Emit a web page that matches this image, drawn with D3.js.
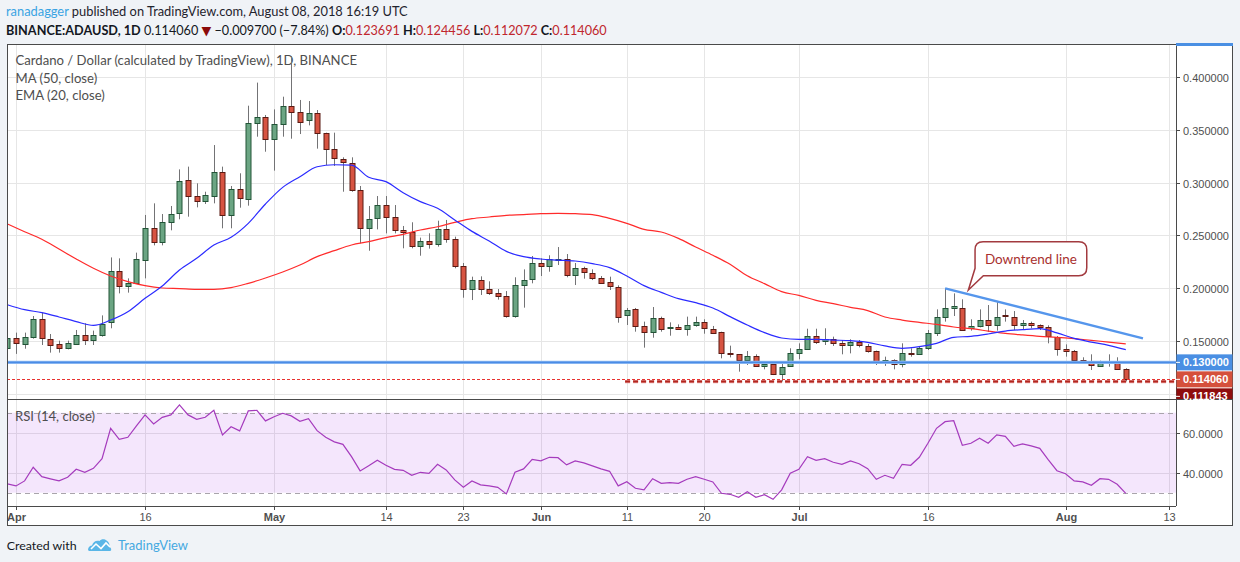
<!DOCTYPE html>
<html><head><meta charset="utf-8">
<script src="https://cdn.jsdelivr.net/npm/d3@7"></script>
<style>
html,body{margin:0;padding:0;background:#f0f3f7;}
svg{display:block;}
</style></head><body>
<svg id="c" width="1240" height="562"></svg>
<script>
// ---------------- DATA ----------------
const startDate = "2018-03-31"; // first daily candle, one per day
const opens = [.1432,.1527,.1477,.1533,.1707,.1524,.1470,.1432,.1480,.1562,
.1515,.1562,.1678,.2160,.2019,.2047,.2264,.2567,.2431,.2620,
.2705,.3020,.2872,.2822,.2872,.3096,.2690,.2935,.2841,.3559,
.3616,.3408,.3550,.3723,.3670,.3584,.3654,.3465,.3313,.3222,
.3181,.2926,.2567,.2661,.2784,.2674,.2548,.2529,.2397,.2444,
.2416,.2557,.2463,.2208,.1990,.2078,.1990,.1952,.1924,.1735,
.2028,.2085,.2239,.2208,.2274,.2274,.2122,.2189,.2148,.2100,
.2056,.2015,.1741,.1801,.1644,.1584,.1719,.1622,.1634,.1612,
.1650,.1678,.1618,.1584,.1388,.1376,.1319,.1357,.1266,.1284,
.1190,.1266,.1385,.1426,.1552,.1502,.1518,.1480,.1461,.1492,
.1455,.1404,.1291,.1319,.1278,.1385,.1376,.1433,.1574,.1726,
.1811,.1817,.1618,.1637,.1697,.1653,.1745,.1732,.1650,.1669,
.1650,.1631,.1543,.1426,.1404,.1322,.1303,.1272,.1307,.1300,
.123691];
const highs = [.1628,.1581,.1581,.1738,.1770,.1568,.1505,.1505,.1606,.1669,
.1600,.1744,.2292,.2283,.2094,.2337,.2693,.2803,.2702,.2778,
.3124,.3150,.2992,.2913,.3354,.3150,.2967,.3087,.3726,.3944,
.3638,.3691,.3811,.4195,.3780,.3770,.3685,.3471,.3471,.3238,
.3238,.2967,.2778,.2872,.2872,.2787,.2589,.2624,.2479,.2520,
.2639,.2646,.2488,.2239,.2110,.2113,.2066,.1993,.1974,.2104,
.2179,.2305,.2283,.2312,.2390,.2324,.2239,.2204,.2179,.2116,
.2110,.2028,.1814,.1814,.1685,.1823,.1732,.1678,.1659,.1732,
.1732,.1707,.1644,.1590,.1458,.1376,.1407,.1376,.1307,.1297,
.1307,.1433,.1480,.1618,.1618,.1622,.1543,.1511,.1518,.1511,
.1474,.1411,.1354,.1329,.1480,.1433,.1455,.1606,.1801,.2000,
.1952,.1896,.1707,.1801,.1842,.1874,.1801,.1785,.1700,.1685,
.1659,.1650,.1549,.1470,.1417,.1348,.1376,.1316,.1376,.1348,
.124456];
const lows = [.1360,.1380,.1429,.1524,.1464,.1392,.1392,.1423,.1464,.1464,
.1464,.1543,.1622,.1952,.1959,.2041,.2094,.2406,.2406,.2548,
.2652,.2677,.2765,.2797,.2803,.2567,.2567,.2762,.2781,.3433,
.3291,.3112,.3433,.3414,.3458,.3540,.3320,.3165,.3156,.2913,
.2913,.2425,.2355,.2557,.2519,.2519,.2378,.2378,.2308,.2375,
.2394,.2431,.2189,.1911,.1889,.1937,.1937,.1893,.1722,.1722,
.1817,.2047,.2116,.2157,.2220,.2104,.2031,.2091,.2078,.2047,
.1984,.1675,.1653,.1590,.1439,.1533,.1590,.1552,.1606,.1552,
.1637,.1571,.1568,.1338,.1347,.1212,.1275,.1259,.1234,.1180,
.1120,.1259,.1329,.1417,.1474,.1464,.1455,.1376,.1385,.1442,
.1392,.1275,.1266,.1234,.1253,.1354,.1370,.1417,.1549,.1685,
.1738,.1600,.1600,.1631,.1587,.1600,.1685,.1606,.1612,.1622,
.1606,.1480,.1363,.1354,.1300,.1285,.1228,.1259,.1259,.1228,
.112072];
const closes = [.1527,.1477,.1540,.1707,.1527,.1470,.1432,.1480,.1562,.1515,
.1562,.1666,.2160,.2019,.2047,.2274,.2567,.2431,.2623,.2699,
.3011,.2866,.2822,.2879,.3096,.2690,.2935,.2847,.3559,.3616,
.3408,.3553,.3723,.3670,.3578,.3654,.3465,.3313,.3228,.3190,
.2926,.2567,.2652,.2784,.2674,.2551,.2529,.2400,.2444,.2416,
.2557,.2463,.2204,.1990,.2078,.1990,.1952,.1924,.1735,.2028,
.2078,.2239,.2208,.2274,.2278,.2122,.2189,.2148,.2100,.2056,
.2015,.1735,.1792,.1644,.1584,.1719,.1618,.1634,.1612,.1650,
.1678,.1618,.1584,.1385,.1376,.1319,.1357,.1266,.1284,.1190,
.1259,.1385,.1426,.1552,.1496,.1518,.1480,.1461,.1492,.1461,
.1404,.1291,.1319,.1278,.1385,.1373,.1433,.1574,.1726,.1811,
.1830,.1612,.1641,.1697,.1653,.1732,.1732,.1653,.1669,.1650,
.1628,.1543,.1426,.1404,.1316,.1297,.1272,.1307,.1297,.1238,
.11406];

// MA(50) and EMA(20) at every second day
const maDays = [0,2,4,6,8,10,12,14,16,18,20,22,24,26,28,30,32,34,36,38,40,42,44,46,48,50,52,54,56,58,60,62,64,66,68,70,72,74,76,78,80,82,84,86,88,90,92,94,96,98,100,102,104,106,108,110,112,114,116,118,120,122,124,126,128,130];
const ma50 = [.2608,.2535,.2463,.2371,.2277,.2189,.2116,.2063,.2025,.2003,.1997,.1990,.1990,.2006,.2047,.2097,.2154,.2220,.2299,.2356,.2409,.2441,.2479,.2510,.2551,.2582,.2623,.2658,.2674,.2690,.2696,.2705,.2709,.2705,.2696,.2661,.2614,.2557,.2532,.2472,.2390,.2312,.2227,.2119,.2044,.1968,.1933,.1886,.1855,.1820,.1789,.1729,.1700,.1678,.1659,.1634,.1618,.1596,.1574,.1559,.1546,.1537,.1524,.1508,.1492,.1474];
const ema20 = [.1845,.1798,.1770,.1729,.1685,.1650,.1700,.1779,.1905,.2022,.2173,.2283,.2409,.2482,.2614,.2797,.2954,.3055,.3149,.3168,.3165,.3049,.3008,.2904,.2819,.2756,.2646,.2538,.2447,.2349,.2299,.2277,.2267,.2258,.2233,.2195,.2116,.2025,.1962,.1902,.1864,.1814,.1732,.1653,.1581,.1530,.1518,.1518,.1511,.1505,.1489,.1455,.1433,.1448,.1480,.1537,.1546,.1568,.1596,.1609,.1618,.1578,.1527,.1492,.1461,.1420];

const rsi14 = [34.4,33.4,35.9,42.7,38.0,36.9,35.9,37.7,41.7,40.2,
42.2,47.0,62.2,56.7,57.7,63.4,68.9,64.4,67.7,68.9,
73.9,68.9,66.7,67.7,71.2,58.9,63.0,60.9,70.9,71.2,
65.9,68.0,69.7,68.4,65.7,67.0,61.0,57.7,55.4,54.2,
48.0,40.9,43.5,46.2,43.7,41.7,41.2,38.7,40.2,39.7,
44.2,41.4,36.4,32.7,35.9,33.9,33.4,32.7,29.4,40.2,
41.9,46.7,45.9,47.7,47.5,43.9,45.9,44.9,43.4,41.9,
40.7,33.4,35.5,32.2,31.4,37.0,34.7,35.0,34.7,36.7,
38.0,36.7,35.4,29.7,29.2,27.7,30.5,27.7,29.0,26.7,
31.4,39.7,41.7,48.0,46.2,47.0,45.2,44.2,45.9,44.5,
42.0,36.7,38.7,37.2,44.2,43.7,47.7,54.7,62.2,65.5,
66.0,53.7,54.7,57.2,54.7,58.9,58.2,53.2,54.4,53.4,
52.2,46.4,41.0,39.5,35.9,35.4,33.7,37.0,36.7,34.2,
29.7];

const priceTicks = [0.10,0.15,0.20,0.25,0.30,0.35,0.40];
const rsiTicks = [40,60];
const rsiBands = [30,70];
const dateTicks = ["2018-04-01","2018-04-16","2018-05-01","2018-05-14","2018-05-23","2018-06-01","2018-06-11","2018-06-20","2018-07-01","2018-07-16","2018-08-01","2018-08-13"];
const dateTickLabels = ["Apr","16","May","14","23","Jun","11","20","Jul","16","Aug","13"];
const monthTick = [true,false,true,false,false,true,false,false,true,false,true,false];

const supportLevel = 0.13;
const lastClose = 0.11406;
const lowLevel = 0.111843;
const lowLevelStartDay = 71.8;
const trendDays = [109, 132];
const trendPrices = [0.2000, 0.1527];
const calloutDay = 111.7, calloutPrice = 0.1984;

// ---------------- SETUP ----------------
const svg = d3.select("#c");
const L = 7, R = 1176, AXR = 1232.5, T = 44, MB = 399, RB = 506, BB = 525;
const t0 = Date.parse(startDate + "T00:00:00Z");
const dayDate = d => new Date(t0 + d * 86400000);
const x = d3.scaleUtc().domain([dayDate(0), new Date(Date.UTC(2018,7,13))]).range([7.4, 1168.8]);
const y = d3.scaleLinear().domain([0.10, 0.40]).range([394.1, 76.7]);
const yr = d3.scaleLinear().domain([40, 60]).range([472.7, 432.7]);
const FONT = "'Liberation Sans', Arial, sans-serif";
const UIFONT = "Lato, 'Noto Sans', sans-serif";

function fit(sel, w){
  const l = sel.node().getComputedTextLength();
  const fs = parseFloat(sel.attr("font-size"));
  if (l > 0) sel.attr("font-size", (fs * w / l).toFixed(2));
}

// chart background
svg.append("rect").attr("x", L).attr("y", T).attr("width", AXR - L).attr("height", BB - T).attr("fill", "#fff");

// clip paths
svg.append("clipPath").attr("id","mainClip").append("rect").attr("x", L).attr("y", T).attr("width", R - L).attr("height", MB - T);
svg.append("clipPath").attr("id","rsiClip").append("rect").attr("x", L).attr("y", MB).attr("width", R - L).attr("height", RB - MB);

// gridlines
const grid = svg.append("g").attr("stroke", "#e6e6e6").attr("stroke-width", 1).attr("shape-rendering","crispEdges");
dateTicks.forEach(d => {
  const xx = Math.round(x(new Date(d + "T00:00:00Z"))) + 0.5;
  grid.append("line").attr("x1", xx).attr("x2", xx).attr("y1", T).attr("y2", RB);
});
priceTicks.forEach(p => {
  const yy = Math.round(y(p)) + 0.5;
  grid.append("line").attr("x1", L).attr("x2", R).attr("y1", yy).attr("y2", yy);
});
rsiTicks.forEach(v => {
  const yy = Math.round(yr(v)) + 0.5;
  grid.append("line").attr("x1", L).attr("x2", R).attr("y1", yy).attr("y2", yy);
});

// RSI band
svg.append("rect").attr("x", L).attr("width", R - L)
  .attr("y", yr(rsiBands[1])).attr("height", yr(rsiBands[0]) - yr(rsiBands[1]))
  .attr("fill", "rgba(145,5,225,0.1)");
rsiBands.forEach(v => {
  const yy = Math.round(yr(v)) + 0.5;
  svg.append("line").attr("x1", L).attr("x2", R).attr("y1", yy).attr("y2", yy)
    .attr("stroke", "#a9a4ab").attr("stroke-dasharray", "5,4").attr("stroke-width", 1);
});

// legends
const leg = svg.append("g").attr("fill", "#4e4e4e").attr("font-family", UIFONT);
const l1 = leg.append("text").attr("x", 15.5).attr("y", 65).attr("font-size", 13).text("Cardano / Dollar (calculated by TradingView), 1D, BINANCE");
fit(l1, 342);
const lfs = l1.attr("font-size");
leg.append("text").attr("x", 15.5).attr("y", 82.5).attr("font-size", lfs).text("MA (50, close)");
leg.append("text").attr("x", 15.5).attr("y", 99.5).attr("font-size", lfs).text("EMA (20, close)");
leg.append("text").attr("x", 15).attr("y", 421).attr("font-size", lfs).text("RSI (14, close)");

// candles
const main = svg.append("g").attr("clip-path", "url(#mainClip)");
const idx = d3.range(opens.length);
const cg = main.append("g");
idx.forEach(i => {
  const px = Math.round(x(dayDate(i)));
  const up = closes[i] >= opens[i];
  cg.append("line").attr("x1", px + 0.5).attr("x2", px + 0.5)
    .attr("y1", y(highs[i])).attr("y2", y(lows[i]))
    .attr("stroke", "#737375").attr("stroke-width", 1);
  const top = y(Math.max(opens[i], closes[i])), bot = y(Math.min(opens[i], closes[i]));
  cg.append("rect").attr("x", px - 2).attr("width", 5)
    .attr("y", Math.round(top) + 0.5).attr("height", Math.max(1, Math.round(bot - top)))
    .attr("fill", up ? "#6ba583" : "#d75442")
    .attr("stroke", up ? "#225437" : "#5b1a13").attr("stroke-width", 1);
});

// MA / EMA
const lineGen = (vals) => d3.line().x((d, k) => x(dayDate(maDays[k]))).y(d => y(d)).curve(d3.curveMonotoneX)(vals);
main.append("path").attr("d", lineGen(ma50)).attr("fill", "none").attr("stroke", "#ff2b2b").attr("stroke-width", 1.2);
main.append("path").attr("d", lineGen(ema20)).attr("fill", "none").attr("stroke", "#2b2bff").attr("stroke-width", 1.2);

// horizontal drawings
main.append("line").attr("x1", L).attr("x2", R).attr("y1", y(supportLevel)).attr("y2", y(supportLevel))
  .attr("stroke", "#9cc2f3").attr("stroke-width", 3.2);
main.append("line").attr("x1", L).attr("x2", R).attr("y1", y(supportLevel)).attr("y2", y(supportLevel))
  .attr("stroke", "#4a8ce6").attr("stroke-width", 1.6);
main.append("line").attr("x1", L).attr("x2", R).attr("y1", Math.round(y(lastClose)) + 0.5).attr("y2", Math.round(y(lastClose)) + 0.5)
  .attr("stroke", "#e8322f").attr("stroke-width", 1).attr("stroke-dasharray", "3,2");
main.append("line").attr("x1", x(dayDate(lowLevelStartDay))).attr("x2", R).attr("y1", y(lowLevel)).attr("y2", y(lowLevel))
  .attr("stroke", "#e9a0a0").attr("stroke-width", 3.2).attr("stroke-dasharray", "5,3");
main.append("line").attr("x1", x(dayDate(lowLevelStartDay))).attr("x2", R).attr("y1", y(lowLevel)).attr("y2", y(lowLevel))
  .attr("stroke", "#b3261e").attr("stroke-width", 2).attr("stroke-dasharray", "5,3");

// downtrend line
main.append("line")
  .attr("x1", x(dayDate(trendDays[0]))).attr("y1", y(trendPrices[0]))
  .attr("x2", x(dayDate(trendDays[1]))).attr("y2", y(trendPrices[1]))
  .attr("stroke", "#5596ec").attr("stroke-width", 2.4);

// callout
{
  const tx = x(dayDate(calloutDay)), ty = y(calloutPrice);
  const bl = tx + 6.7, br = tx + 118.4, bt = ty - 48.3, bb = ty - 14.3, r = 8;
  const p = `M${bl + r},${bt} H${br - r} Q${br},${bt} ${br},${bt + r} V${bb - r} Q${br},${bb} ${br - r},${bb} H${bl + 8.3} L${tx},${ty} L${bl},${bb - 7.4} V${bt + r} Q${bl},${bt} ${bl + r},${bt} Z`;
  svg.append("path").attr("d", p).attr("fill", "#fff").attr("stroke", "#a23a3f").attr("stroke-width", 1.5);
  const ct = svg.append("text").attr("x", (bl + br) / 2).attr("y", (bt + bb) / 2 + 5)
    .attr("text-anchor", "middle").attr("font-family", UIFONT).attr("font-size", 14)
    .attr("fill", "#a8302f").text("Downtrend line");
  fit(ct, 92);
}

// RSI line
const rsiG = svg.append("g").attr("clip-path", "url(#rsiClip)");
rsiG.append("path").attr("d", d3.line().x((d, i) => x(dayDate(i))).y(d => yr(d))(rsi14))
  .attr("fill", "none").attr("stroke", "#a53bbd").attr("stroke-width", 1.2);

// borders
const bd = svg.append("g").attr("stroke", "#4a4a4a").attr("stroke-width", 1).attr("shape-rendering", "crispEdges");
bd.append("line").attr("x1", L + 0.5).attr("x2", L + 0.5).attr("y1", T).attr("y2", BB);
bd.append("line").attr("x1", AXR).attr("x2", AXR).attr("y1", T).attr("y2", BB);
bd.append("line").attr("x1", L).attr("x2", AXR).attr("y1", T + 0.5).attr("y2", T + 0.5);
bd.append("line").attr("x1", L).attr("x2", AXR).attr("y1", MB + 0.5).attr("y2", MB + 0.5);
bd.append("line").attr("x1", L).attr("x2", R).attr("y1", RB + 0.5).attr("y2", RB + 0.5);
bd.append("line").attr("x1", L).attr("x2", AXR).attr("y1", BB + 0.5).attr("y2", BB + 0.5);
bd.append("line").attr("x1", R + 0.5).attr("x2", R + 0.5).attr("y1", T).attr("y2", RB);
svg.append("rect").attr("x", R).attr("y", 43).attr("width", AXR - R + 0.5).attr("height", 3).attr("fill", "#4a8fe3");

// price axis
const pa = svg.append("g").attr("font-family", FONT).attr("font-size", 11).attr("fill", "#4f4f4f");
priceTicks.filter(p => p > 0.12).forEach(p => {
  const yy = Math.round(y(p)) + 0.5;
  pa.append("line").attr("x1", R).attr("x2", R + 4).attr("y1", yy).attr("y2", yy).attr("stroke", "#4a4a4a");
  pa.append("text").attr("x", 1183).attr("y", yy + 4).text(p.toFixed(6));
});
rsiTicks.forEach(v => {
  const yy = Math.round(yr(v)) + 0.5;
  pa.append("line").attr("x1", R).attr("x2", R + 4).attr("y1", yy).attr("y2", yy).attr("stroke", "#4a4a4a");
  pa.append("text").attr("x", 1183).attr("y", yy + 4).text(v.toFixed(4));
});

// price label boxes
{
  const boxes = [
    {v: supportLevel, fill: "#4a8fe3"},
    {v: lastClose, fill: "#d5503c"},
    {v: lowLevel, fill: "#8e0d0d"}
  ];
  let prevBottom = -1;
  boxes.forEach(b => {
    let top = y(b.v) - 8;
    if (top < prevBottom + 1) top = prevBottom + 1;
    const h = Math.min(16, MB - top);
    svg.append("rect").attr("x", R + 0.5).attr("y", top).attr("width", AXR - R - 0.5).attr("height", h).attr("fill", b.fill);
    svg.append("line").attr("x1", R).attr("x2", R + 4).attr("y1", top + 8).attr("y2", top + 8).attr("stroke", "#fff");
    svg.append("text").attr("x", 1183).attr("y", top + 12).attr("font-family", FONT).attr("font-size", 11)
      .attr("font-weight", "bold").attr("fill", "#fff").text(b.v.toFixed(6));
    prevBottom = top + 16;
  });
}

// time axis
const ta = svg.append("g").attr("font-family", FONT).attr("font-size", 11).attr("fill", "#4f4f4f");
dateTicks.forEach((d, k) => {
  const xx = Math.round(x(new Date(d + "T00:00:00Z"))) + 0.5;
  ta.append("line").attr("x1", xx).attr("x2", xx).attr("y1", RB).attr("y2", RB + 4).attr("stroke", "#4a4a4a");
  ta.append("text").attr("x", xx).attr("y", 521).attr("text-anchor", "middle")
    .attr("font-weight", monthTick[k] ? "bold" : "normal").text(dateTickLabels[k]);
});

// header
const h1 = svg.append("text").attr("x", 6).attr("y", 16).attr("font-family", UIFONT).attr("font-size", 13).attr("fill", "#1f232d");
h1.append("tspan").attr("fill", "#3aa3e3").text("ranadagger");
h1.append("tspan").text(" published on TradingView.com, August 08, 2018 16:19 UTC");
fit(h1, 402);
const h2 = svg.append("text").attr("x", 6).attr("y", 35).attr("font-family", UIFONT).attr("font-size", 13).attr("fill", "#131722");
h2.append("tspan").attr("font-weight", "bold").text("BINANCE:ADAUSD, 1D");
h2.append("tspan").text(" 0.114060 ");
h2.append("tspan").attr("fill", "#8b0a0a").attr("font-family", "'DejaVu Sans', sans-serif").text("▼");
h2.append("tspan").text(" −0.009700 (−7.84%) ");
[["O:", "0.123691"], ["H:", "0.124456"], ["L:", "0.112072"], ["C:", "0.114060"]].forEach((p, k) => {
  h2.append("tspan").attr("font-weight", "bold").text((k ? " " : "") + p[0]);
  h2.append("tspan").attr("fill", "#c0262d").text(p[1]);
});
fit(h2, 601);

// footer
const f1 = svg.append("text").attr("x", 6.7).attr("y", 549.5).attr("font-family", UIFONT).attr("font-size", 13).attr("fill", "#131722").text("Created with");
fit(f1, 70);
const logo = svg.append("g").attr("transform", "translate(88,539)");
logo.append("path").attr("d", "M0,11 C0,8 2,6.5 4,6.5 C5,3 8,1 11.5,2 C13,0 16.5,-0.5 18.5,1.5 C21,3 22,6 21.5,8 C23,9 23.5,10 23,11.5 L22,12 L1,12 Z").attr("fill", "#5ab6e7");
logo.append("polyline").attr("points", "3,10 8,5 13,9.5 18,4 22,8").attr("fill", "none").attr("stroke", "#fff").attr("stroke-width", 1.6);
const f2 = svg.append("text").attr("x", 118).attr("y", 549.5).attr("font-family", UIFONT).attr("font-size", 13).attr("fill", "#45a9e1").text("TradingView");
fit(f2, 70);
</script>
</body></html>
